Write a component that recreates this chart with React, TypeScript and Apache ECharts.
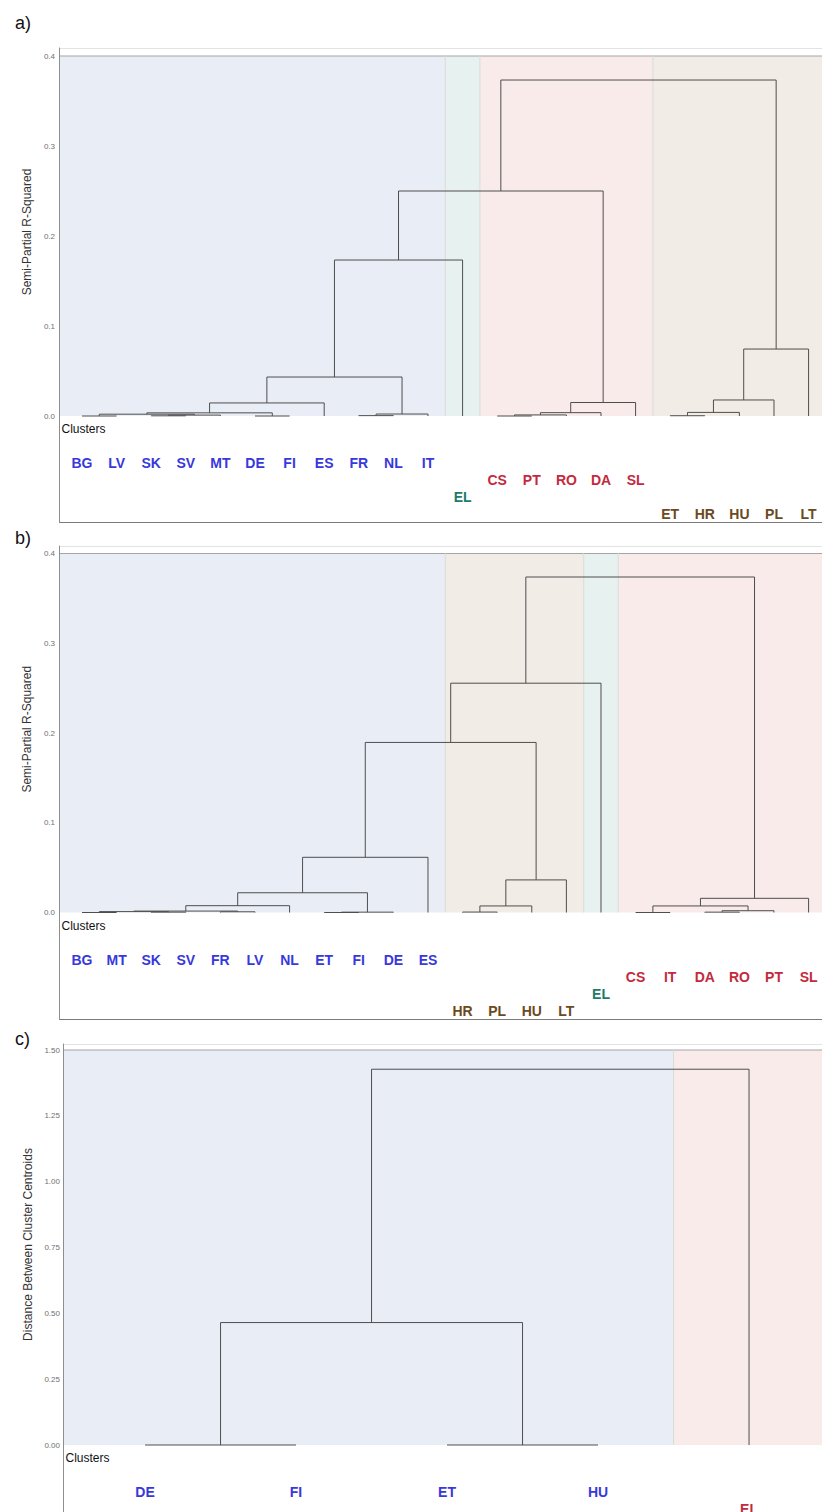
import React, { useEffect, useRef } from "react";
import * as echarts from "echarts";

// cluster index: 0 blue, 1 red, 2 teal, 3 brown
const CLUSTER_COLORS = ["#3838DC", "#C42A3E", "#1E7A6D", "#6B4A1E"];
const BAND_COLORS = ["#E9EDF6", "#F9EBEA", "#E7F1EF", "#F1ECE6"];

// ---------- Panel a ----------
const leavesA = ["BG", "LV", "SK", "SV", "MT", "DE", "FI", "ES", "FR", "NL", "IT", "EL", "CS", "PT", "RO", "DA", "SL", "ET", "HR", "HU", "PL", "LT"];
const clustersA = [0, 0, 0, 0, 0, 0, 0, 0, 0, 0, 0, 2, 1, 1, 1, 1, 1, 3, 3, 3, 3, 3];
const mergesA: [string, string, number][] = [
  ["BG", "LV", 0.0],
  ["SK", "SV", 0.0002],
  ["@1", "MT", 0.001],
  ["@0", "@2", 0.002],
  ["DE", "FI", 0.0],
  ["@3", "@4", 0.0035],
  ["@5", "ES", 0.0145],
  ["FR", "NL", 0.0004],
  ["@7", "IT", 0.0022],
  ["@6", "@8", 0.0433],
  ["@9", "EL", 0.1733],
  ["CS", "PT", 0.0],
  ["@11", "RO", 0.0012],
  ["@12", "DA", 0.0037],
  ["@13", "SL", 0.015],
  ["@10", "@14", 0.25],
  ["ET", "HR", 0.0003],
  ["@16", "HU", 0.004],
  ["@17", "PL", 0.0178],
  ["@18", "LT", 0.0744],
  ["@15", "@19", 0.3733],
];

// ---------- Panel b ----------
const leavesB = ["BG", "MT", "SK", "SV", "FR", "LV", "NL", "ET", "FI", "DE", "ES", "HR", "PL", "HU", "LT", "EL", "CS", "IT", "DA", "RO", "PT", "SL"];
const clustersB = [0, 0, 0, 0, 0, 0, 0, 0, 0, 0, 0, 3, 3, 3, 3, 2, 1, 1, 1, 1, 1, 1];
const mergesB: [string, string, number][] = [
  ["BG", "MT", 0.0],
  ["SK", "SV", 0.0004],
  ["@0", "@1", 0.001],
  ["FR", "LV", 0.0008],
  ["@2", "@3", 0.0016],
  ["@4", "NL", 0.0076],
  ["ET", "FI", 0.0],
  ["@6", "DE", 0.0004],
  ["@5", "@7", 0.022],
  ["@8", "ES", 0.0615],
  ["HR", "PL", 0.0005],
  ["@10", "HU", 0.0073],
  ["@11", "LT", 0.0363],
  ["@9", "@12", 0.1895],
  ["@13", "EL", 0.2555],
  ["CS", "IT", 0.0],
  ["DA", "RO", 0.0004],
  ["@16", "PT", 0.002],
  ["@15", "@17", 0.0073],
  ["@18", "SL", 0.0158],
  ["@14", "@19", 0.3738],
];

// ---------- Panel c ----------
const leavesC = ["DE", "FI", "ET", "HU", "EL"];
const clustersC = [0, 0, 0, 0, 1];
const mergesC: [string, string, number][] = [
  ["DE", "FI", 0.0],
  ["ET", "HU", 0.0],
  ["@0", "@1", 0.465],
  ["@2", "EL", 1.427],
];

const ticksAB = [0, 0.1, 0.2, 0.3, 0.4];
const ticksC = [0, 0.25, 0.5, 0.75, 1.0, 1.25, 1.5];

function buildSegments(leaves: string[], merges: [string, string, number][]) {
  const pos: Record<string, { x: number; y: number }> = {};
  leaves.forEach((n, i) => (pos[n] = { x: i, y: 0 }));
  const segs: number[][] = [];
  merges.forEach(([a, b, h], k) => {
    const A = pos[a];
    const B = pos[b];
    segs.push([A.x, A.y, B.x, B.y, h]);
    pos["@" + k] = { x: (A.x + B.x) / 2, y: h };
  });
  return segs;
}

function buildBands(clusters: number[], min: number, max: number, top: number) {
  const bands: number[][] = [];
  let start = 0;
  for (let i = 1; i <= clusters.length; i++) {
    if (i === clusters.length || clusters[i] !== clusters[start]) {
      const x0 = start === 0 ? min : start - 0.5;
      const x1 = i === clusters.length ? max : i - 0.5;
      bands.push([x0, x1, clusters[start], top, start === 0 ? 0 : 1]);
      start = i;
    }
  }
  return bands;
}

const FONT = "Liberation Sans, Arial, Helvetica, sans-serif";

interface PanelDef {
  leaves: string[];
  clusters: number[];
  merges: [string, string, number][];
  left: number;
  top: number;
  zeroY: number;
  topValY: number;
  topVal: number;
  ticks: number[];
  decimals: number;
  spacing: number;
  xmin: number;
  xmax: number;
  labelH: number;
  yName: string;
  nameGap: number;
  labelMargin: number;
  namePad: number;
}

const LABEL_OFFSET = 47;
const LABEL_STEP = 17;

export default function App() {
  const ref = useRef<HTMLDivElement>(null);

  useEffect(() => {
    if (!ref.current) return;
    const chart = echarts.init(ref.current, null, { renderer: "svg" });

    const panels: PanelDef[] = [
      {
        leaves: leavesA, clusters: clustersA, merges: mergesA,
        left: 59.5, top: 48, zeroY: 416, topValY: 56, topVal: 0.4, ticks: ticksAB, decimals: 1,
        spacing: 34.6, xmin: -0.65, xmax: 21.6, labelH: 106,
        yName: "Semi-Partial R-Squared", nameGap: 24, labelMargin: 4.5, namePad: 4,
      },
      {
        leaves: leavesB, clusters: clustersB, merges: mergesB,
        left: 59.5, top: 546, zeroY: 912.5, topValY: 553.5, topVal: 0.4, ticks: ticksAB, decimals: 1,
        spacing: 34.6, xmin: -0.65, xmax: 21.6, labelH: 106.5,
        yName: "Semi-Partial R-Squared", nameGap: 24, labelMargin: 4.5, namePad: 4,
      },
      {
        leaves: leavesC, clusters: clustersC, merges: mergesC,
        left: 63.5, top: 1044, zeroY: 1445, topValY: 1050, topVal: 1.5, ticks: ticksC, decimals: 2,
        spacing: 151, xmin: -0.54, xmax: 4.55, labelH: 106,
        yName: "Distance Between Cluster Centroids", nameGap: 27, labelMargin: 3.5, namePad: 3,
      },
    ];

    const grids: any[] = [];
    const xAxes: any[] = [];
    const yAxes: any[] = [];
    const series: any[] = [];
    const graphics: any[] = [];

    const letters = ["a)", "b)", "c)"];
    const letterY = [23, 538, 1039];

    panels.forEach((p, pi) => {
      const width = (p.xmax - p.xmin) * p.spacing;
      const dh = p.zeroY - p.top;
      const ymax = (p.topVal * dh) / (p.zeroY - p.topValY);
      const gD = pi * 2;
      const gL = pi * 2 + 1;
      grids.push({ left: p.left, top: p.top, width, height: dh, outerBoundsMode: "none", containLabel: false });
      grids.push({ left: p.left, top: p.zeroY, width, height: p.labelH, outerBoundsMode: "none", containLabel: false });

      xAxes.push({
        gridIndex: gD, type: "value", min: p.xmin, max: p.xmax, position: "top",
        axisLine: { show: true, onZero: false, lineStyle: { color: "#e3e3e3", width: 1 } },
        axisTick: { show: false }, axisLabel: { show: false }, splitLine: { show: false },
      });
      xAxes.push({
        gridIndex: gL, type: "value", min: p.xmin, max: p.xmax, position: "bottom",
        axisLine: { show: true, onZero: false, lineStyle: { color: "#7a7a7a", width: 1 } },
        axisTick: { show: false }, axisLabel: { show: false }, splitLine: { show: false },
      });
      const interval = p.ticks[1] - p.ticks[0];
      yAxes.push({
        gridIndex: gD, type: "value", min: 0, max: ymax, interval, z: 6,
        axisLine: { show: true, onZero: false, lineStyle: { color: "#8e8e8e", width: 1 } },
        axisTick: { show: false }, splitLine: { show: false },
        axisLabel: {
          fontSize: 8, color: "#707070", margin: p.labelMargin, fontFamily: FONT,
          formatter: (v: number) => {
            const hit = p.ticks.find((t) => Math.abs(t - v) < 1e-6);
            return hit === undefined ? "" : hit.toFixed(p.decimals);
          },
        },
        name: p.yName, nameLocation: "middle", nameGap: p.nameGap,
        nameTextStyle: { fontSize: 12, color: "#333", fontFamily: FONT, padding: [0, 0, 0, 0] },
      });
      yAxes.push({
        gridIndex: gL, type: "value", inverse: true,
        min: -LABEL_OFFSET / LABEL_STEP, max: (p.labelH - LABEL_OFFSET) / LABEL_STEP, z: 6,
        axisLine: { show: true, onZero: false, lineStyle: { color: "#8e8e8e", width: 1 } },
        axisTick: { show: false }, axisLabel: { show: false }, splitLine: { show: false },
      });

      // background bands
      series.push({
        type: "custom", xAxisIndex: gD, yAxisIndex: gD, z: 1, silent: true,
        data: buildBands(p.clusters, p.xmin, p.xmax, p.topVal),
        renderItem: (params: any, api: any) => {
          const x0 = api.value(0), x1 = api.value(1), c = api.value(2), top = api.value(3), sep = api.value(4);
          const p0 = api.coord([x0, top]);
          const p1 = api.coord([x1, 0]);
          const children: any[] = [
            { type: "rect", shape: { x: p0[0], y: p0[1], width: p1[0] - p0[0], height: p1[1] - p0[1] }, style: { fill: BAND_COLORS[c] } },
            { type: "line", shape: { x1: p0[0], y1: p0[1], x2: p1[0], y2: p0[1] }, style: { stroke: "#a5a5a5", lineWidth: 1.2 } },
          ];
          if (sep) {
            children.push({ type: "line", shape: { x1: p0[0], y1: p0[1], x2: p0[0], y2: p1[1] }, style: { stroke: "#dadada", lineWidth: 1 } });
          }
          return { type: "group", children };
        },
      });

      // dendrogram links
      series.push({
        type: "custom", xAxisIndex: gD, yAxisIndex: gD, z: 3, silent: true,
        data: buildSegments(p.leaves, p.merges),
        renderItem: (params: any, api: any) => {
          const a = api.coord([api.value(0), api.value(1)]);
          const b = api.coord([api.value(0), api.value(4)]);
          const c = api.coord([api.value(2), api.value(4)]);
          const d = api.coord([api.value(2), api.value(3)]);
          return {
            type: "polyline",
            shape: { points: [a, b, c, d] },
            style: { stroke: "#4e4e4e", lineWidth: 1, fill: "none" },
          };
        },
      });

      // leaf labels
      series.push({
        type: "scatter", xAxisIndex: gL, yAxisIndex: gL, z: 4, silent: true,
        symbol: "circle", symbolSize: 1,
        itemStyle: { color: "rgba(0,0,0,0)", opacity: 1 },
        emphasis: { disabled: true },
        data: p.leaves.map((n, i) => ({
          name: n,
          value: [i, p.clusters[i]],
          itemStyle: { color: "rgba(0,0,0,0)", opacity: 1 },
          label: { color: CLUSTER_COLORS[p.clusters[i]], opacity: 1 },
        })),
        label: {
          show: true, position: "inside", formatter: "{b}", opacity: 1,
          fontSize: 14, fontWeight: "bold", fontFamily: FONT,
        },
      });

      graphics.push({
        type: "text", x: 15, y: letterY[pi], silent: true,
        style: { text: letters[pi], fontSize: 18, fontFamily: FONT, fill: "#111", align: "left", verticalAlign: "middle" },
      });
      graphics.push({
        type: "text", x: p.left + 2, y: p.zeroY + 13, silent: true, z: 10,
        style: { text: "Clusters", fontSize: 12, fontFamily: FONT, fill: "#111", align: "left", verticalAlign: "middle" },
      });
    });

    chart.setOption({
      animation: false,
      backgroundColor: "#ffffff",
      textStyle: { fontFamily: FONT },
      grid: grids,
      xAxis: xAxes,
      yAxis: yAxes,
      series,
      graphic: graphics,
    });

    return () => chart.dispose();
  }, []);

  return (
    <div
      ref={ref}
      style={{ position: "absolute", left: 0, top: 0, width: 822, height: 1512 }}
    />
  );
}
